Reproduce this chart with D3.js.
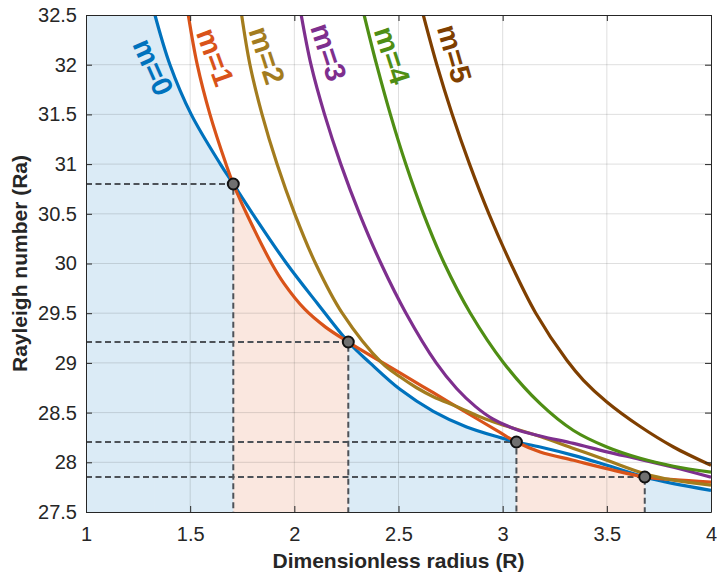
<!DOCTYPE html>
<html>
<head>
<meta charset="utf-8">
<style>
body { margin: 0; background: #fff; }
svg { display: block; font-family: "Liberation Sans", Arial, Helvetica, sans-serif; }
.grid line { stroke: #262626; stroke-opacity: 0.15; stroke-width: 1; }
.axis path, .axis line { stroke: #262626; stroke-width: 1; }
.axis text { fill: #262626; font-size: 20px; font-family: "Liberation Sans", Arial, sans-serif; }
.title { fill: #262626; font-size: 21px; font-weight: bold; }
.mode { stroke-width: 3.2; fill: none; }
.guide { stroke: #4d5258; stroke-width: 2; stroke-dasharray: 6,3.5; fill: none; }
.label { font-size: 29px; font-weight: bold; }
.pt { fill: #707070; stroke: #111; stroke-width: 2; }
</style>
</head>
<body>
<svg width="717" height="581"></svg>
<script src="https://cdn.jsdelivr.net/npm/d3@7"></script>
<script>

// ---- data ----
var xTicks = [1, 1.5, 2, 2.5, 3, 3.5, 4];
var yTicks = [27.5, 28, 28.5, 29, 29.5, 30, 30.5, 31, 31.5, 32, 32.5];

var r0  = [1.331, 1.403, 1.505, 1.645, 1.707, 1.80, 1.963, 2.11, 2.259, 2.363, 2.507, 2.667, 2.827, 2.987, 3.066, 3.18, 3.34, 3.5, 3.682, 3.82, 4.0];
var ra0 = [32.5, 32.0, 31.5, 31.0, 30.8, 30.5, 30.0, 29.60, 29.21, 29.0, 28.734, 28.513, 28.356, 28.25, 28.204, 28.154, 28.07, 27.97, 27.852, 27.785, 27.718];

var r1  = [1.491, 1.534, 1.595, 1.672, 1.707, 1.771, 1.891, 1.95, 2.05, 2.15, 2.259, 2.507, 2.667, 2.827, 2.987, 3.066, 3.18, 3.34, 3.5, 3.682, 3.82, 4.0];
var ra1 = [32.5, 32.0, 31.5, 31.0, 30.8, 30.5, 30.0, 29.80, 29.54, 29.36, 29.21, 28.90, 28.70, 28.50, 28.30, 28.204, 28.104, 28.02, 27.936, 27.852, 27.825, 27.80];

var r2  = [1.747, 1.787, 1.845, 1.917, 2.002, 2.102, 2.23, 2.42, 2.507, 2.587, 2.667, 2.78, 2.9, 2.987, 3.18, 3.34, 3.5, 3.682, 3.82, 4.0];
var ra2 = [32.5, 32.0, 31.5, 31.0, 30.5, 30.0, 29.5, 29.0, 28.86, 28.75, 28.66, 28.56, 28.45, 28.385, 28.26, 28.14, 28.02, 27.885, 27.82, 27.77];

var r3  = [2.033, 2.08, 2.145, 2.223, 2.313, 2.416, 2.536, 2.681, 2.78, 2.87, 2.95, 3.066, 3.18, 3.34, 3.5, 3.66, 3.82, 4.0];
var ra3 = [32.5, 32.0, 31.5, 31.0, 30.5, 30.0, 29.5, 29.0, 28.74, 28.56, 28.44, 28.33, 28.265, 28.19, 28.105, 28.03, 27.95, 27.85];

var r4  = [2.335, 2.395, 2.461, 2.535, 2.62, 2.72, 2.845, 3.005, 3.18, 3.34, 3.5, 3.66, 3.82, 4.0];
var ra4 = [32.5, 32.0, 31.5, 31.0, 30.5, 30.0, 29.5, 29.0, 28.59, 28.32, 28.154, 28.04, 27.96, 27.90];

var r5  = [2.619, 2.684, 2.758, 2.841, 2.934, 3.039, 3.159, 3.308, 3.388, 3.5, 3.66, 3.82, 4.0];
var ra5 = [32.5, 32.0, 31.5, 31.0, 30.5, 30.0, 29.5, 29.026, 28.825, 28.607, 28.36, 28.154, 27.97];

// crossings of the lowest mode
var crossR  = [1.707, 2.259, 3.066, 3.682];
var crossRa = [30.8, 29.21, 28.204, 27.852];
var lowestMode = [0, 1, 0, 1, 0];

var modeNames = ["m=0", "m=1", "m=2", "m=3", "m=4", "m=5"];

// ---- styling / annotation placement ----
var colors = ["#0072bd", "#d95319", "#a37c1e", "#7e2f8e", "#4f8e14", "#7f3f00"];
var labelPos = [[1.323, 31.977, 66], [1.621, 32.077, 70], [1.869, 32.095, 72],
                [2.165, 32.128, 72], [2.47, 32.095, 72], [2.769, 32.112, 74]];

var svg = d3.select("svg"),
    margin = {top: 15, right: 6, bottom: 69, left: 86},
    width = +svg.attr("width") - margin.left - margin.right,
    height = +svg.attr("height") - margin.top - margin.bottom,
    g = svg.append("g").attr("transform", "translate(" + margin.left + "," + margin.top + ")");

var x = d3.scaleLinear().domain([1, 4]).range([0, width]);
var y = d3.scaleLinear().domain([27.5, 32.5]).range([height, 0]);

var modes = [[r0, ra0], [r1, ra1], [r2, ra2], [r3, ra3], [r4, ra4], [r5, ra5]].map(function(s) {
  return s[0].map(function(r, i) { return {r: r, ra: s[1][i]}; });
});

g.append("clipPath").attr("id", "plot")
  .append("rect").attr("width", width).attr("height", height);

var smooth = d3.curveCatmullRom.alpha(0.5);
var line = d3.line().curve(smooth)
    .x(function(d) { return x(d.r); }).y(function(d) { return y(d.ra); });
var area = d3.area().curve(smooth)
    .x(function(d) { return x(d.r); }).y0(height).y1(function(d) { return y(d.ra); });

// shaded regions under the lowest mode
var bounds = [x.domain()[0]].concat(crossR, [x.domain()[1]]);
var fills = g.append("g").attr("clip-path", "url(#plot)");
lowestMode.forEach(function(m, i) {
  var id = "seg" + i;
  g.append("clipPath").attr("id", id)
    .append("rect")
      .attr("x", x(bounds[i])).attr("width", x(bounds[i + 1]) - x(bounds[i]))
      .attr("y", 0).attr("height", height);
  var seg = fills.append("g").attr("clip-path", "url(#" + id + ")")
      .attr("fill", colors[m]).attr("fill-opacity", 0.14);
  seg.append("path").attr("d", area(modes[m]));
  var first = modes[m][0].r;
  if (first > bounds[i]) {
    seg.append("rect").attr("x", x(bounds[i])).attr("y", 0)
      .attr("width", x(first) - x(bounds[i])).attr("height", height);
  }
});

// grid
var grid = g.append("g").attr("class", "grid");
grid.selectAll(".gx").data(xTicks.slice(1, -1)).enter().append("line")
    .attr("x1", x).attr("x2", x).attr("y1", 0).attr("y2", height);
grid.selectAll(".gy").data(yTicks.slice(1, -1)).enter().append("line")
    .attr("y1", y).attr("y2", y).attr("x1", 0).attr("x2", width);

// dashed guides to crossings
var guides = g.append("g");
crossR.forEach(function(r, i) {
  guides.append("path").attr("class", "guide")
    .attr("d", "M" + x(x.domain()[0]) + "," + y(crossRa[i]) + "H" + x(r) + "V" + y(y.domain()[0]));
});

// curves
var curves = g.append("g").attr("clip-path", "url(#plot)");
modes.forEach(function(pts, m) {
  curves.append("path").attr("class", "mode").attr("stroke", colors[m]).attr("d", line(pts));
});

// crossing markers
g.selectAll(".pt").data(crossR).enter().append("circle")
    .attr("class", "pt").attr("r", 5.5)
    .attr("cx", function(d) { return x(d); })
    .attr("cy", function(d, i) { return y(crossRa[i]); });

// mode labels
g.selectAll(".label").data(modeNames).enter().append("text")
    .attr("class", "label")
    .attr("fill", function(d, i) { return colors[i]; })
    .attr("text-anchor", "middle").attr("dy", "0.35em")
    .attr("transform", function(d, i) {
      var p = labelPos[i];
      return "translate(" + x(p[0]) + "," + y(p[1]) + ") rotate(" + p[2] + ")";
    })
    .text(function(d) { return d; });

// axes (box with inward ticks)
var fmt = function(d) { return String(d); };
g.append("g").attr("class", "axis").attr("transform", "translate(0," + height + ")")
    .call(d3.axisBottom(x).tickValues(xTicks).tickFormat(fmt).tickSize(-6).tickSizeOuter(0).tickPadding(15));
g.append("g").attr("class", "axis")
    .call(d3.axisLeft(y).tickValues(yTicks).tickFormat(fmt).tickSize(-6).tickSizeOuter(0).tickPadding(9));
g.append("g").attr("class", "axis")
    .call(d3.axisTop(x).tickValues(xTicks).tickFormat("").tickSize(-6).tickSizeOuter(0));
g.append("g").attr("class", "axis").attr("transform", "translate(" + width + ",0)")
    .call(d3.axisRight(y).tickValues(yTicks).tickFormat("").tickSize(-6).tickSizeOuter(0));

svg.append("text").attr("class", "title")
    .attr("x", margin.left + width / 2).attr("y", 568)
    .attr("text-anchor", "middle")
    .text("Dimensionless radius (R)");
svg.append("text").attr("class", "title")
    .attr("transform", "translate(27," + (margin.top + height / 2) + ") rotate(-90)")
    .attr("text-anchor", "middle")
    .text("Rayleigh number (Ra)");

</script>
</body>
</html>
